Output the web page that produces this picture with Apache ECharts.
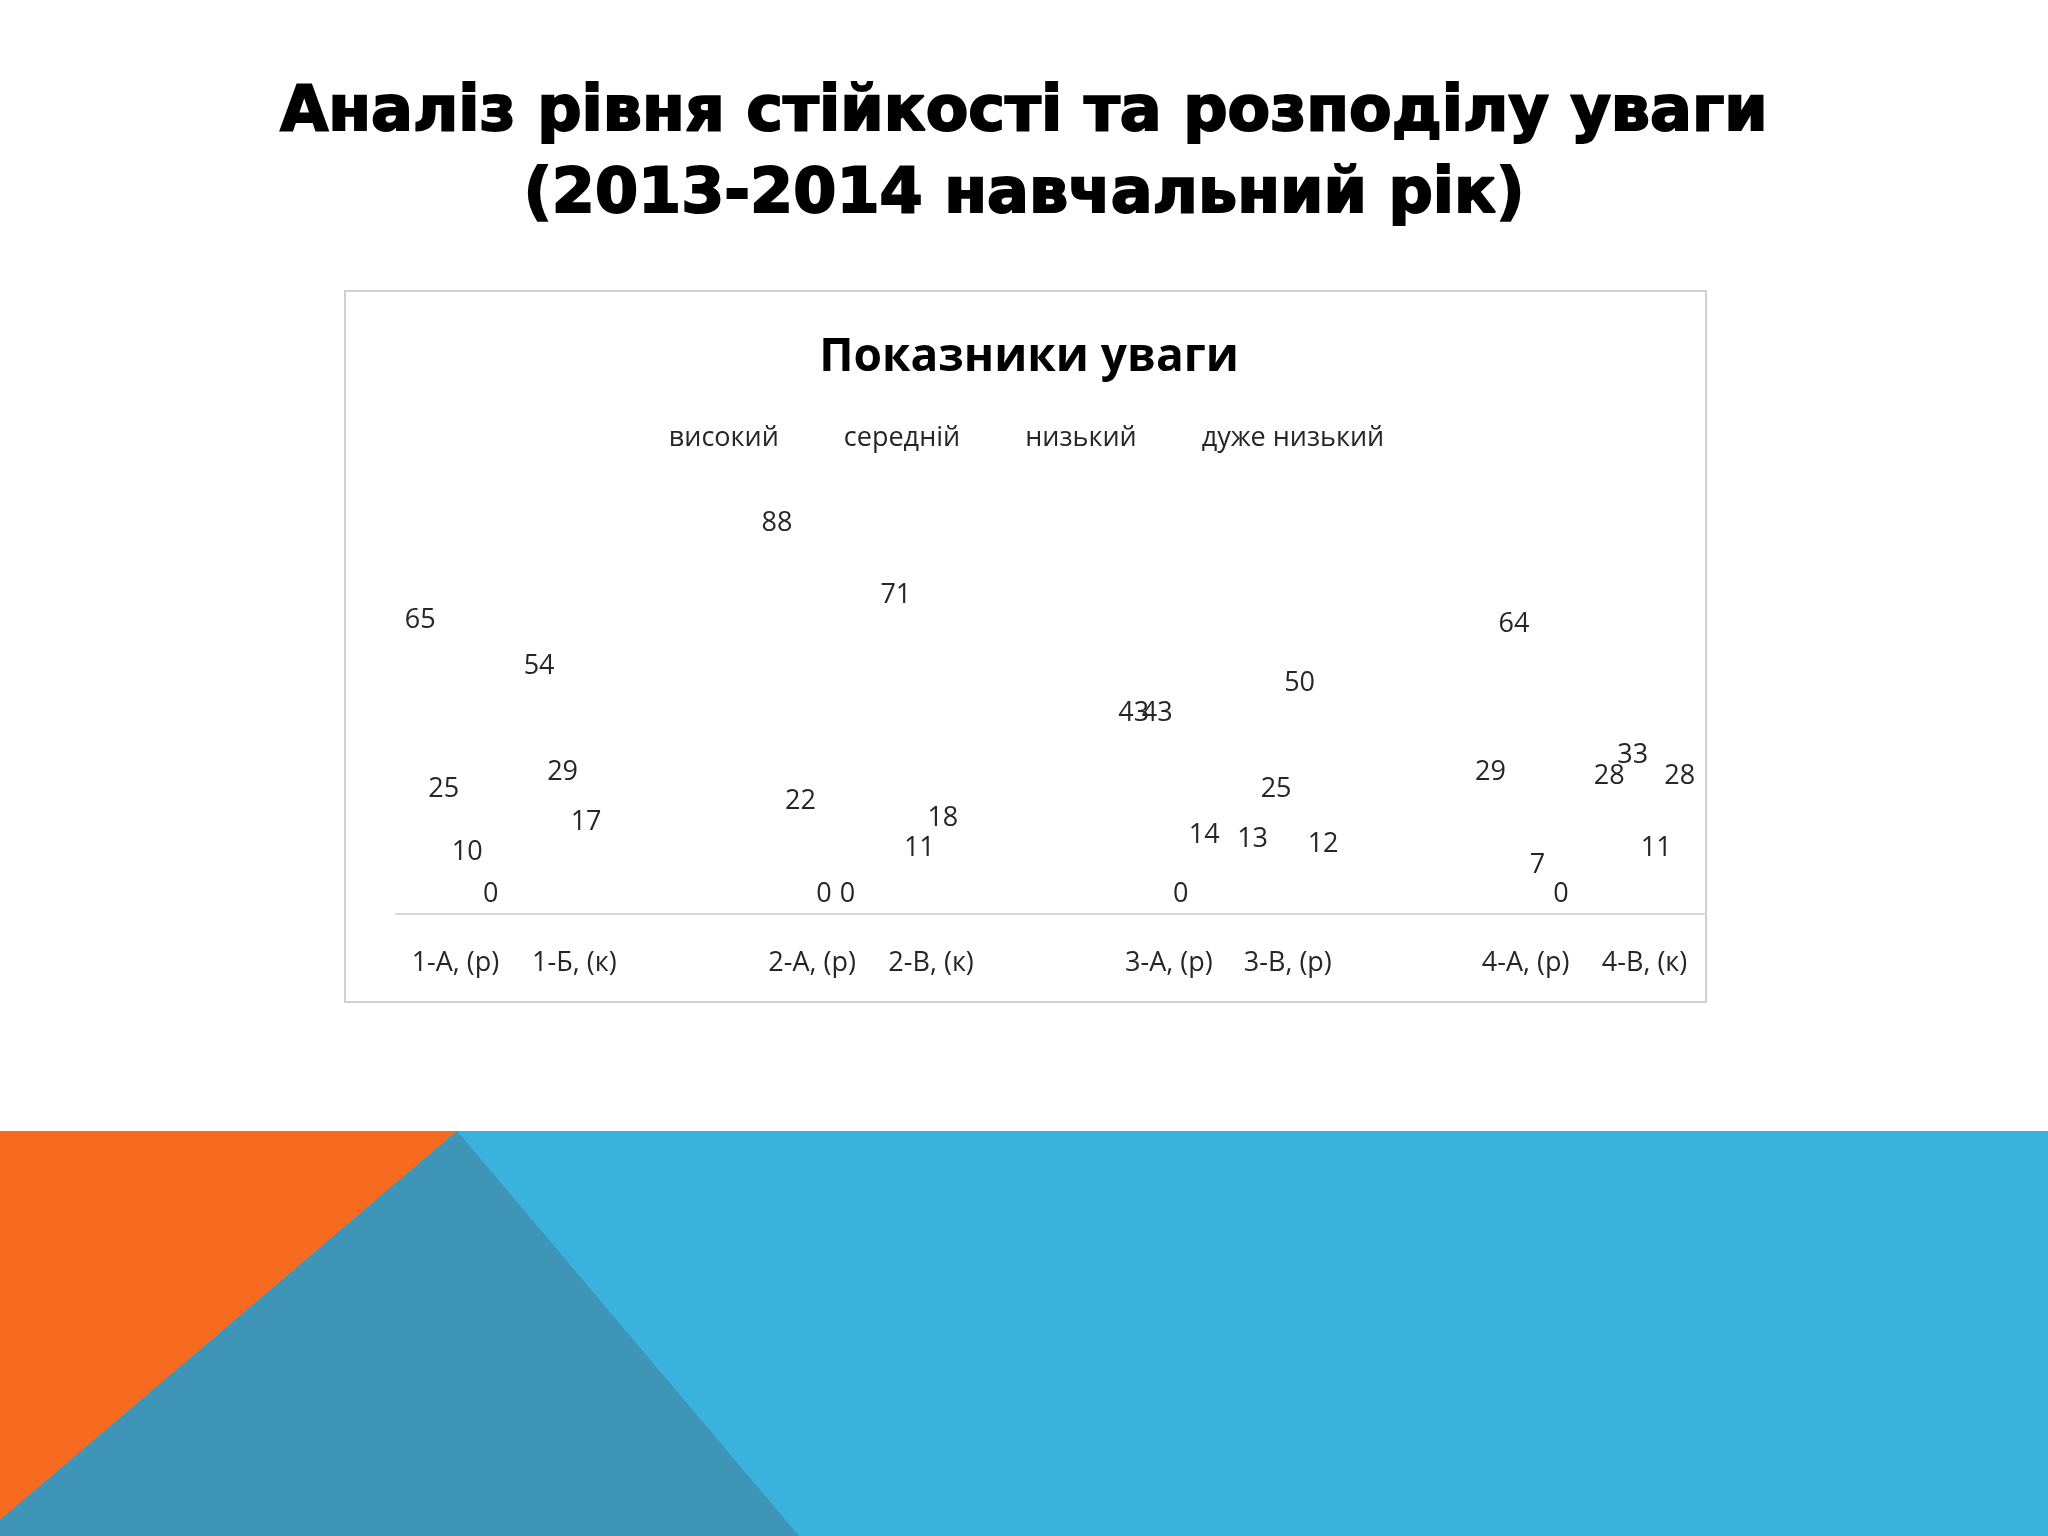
<!DOCTYPE html>
<html><head><meta charset="utf-8">
<script src="https://cdn.jsdelivr.net/npm/echarts@6/dist/echarts.min.js"></script>
<style>html,body{margin:0;padding:0;background:#fff}#c{width:2048px;height:1536px}</style>
</head><body><div id="c"></div>
<script>
const categories = ['1-А, (р)','1-Б, (к)','','2-А, (р)','2-В, (к)','','3-А, (р)','3-В, (р)','','4-А, (р)','4-В, (к)'];
const seriesNames = ['високий','середній','низький','дуже низький'];
const high     = [65,54,null,88,71,null,43,13,null,29,28];
const medium   = [25,29,null,22,11,null,43,25,null,64,33];
const low      = [10,17,null,0,18,null,0,50,null,7,11];
const veryLow  = [0,null,null,0,null,null,14,12,null,0,28];
const values = [high, medium, low, veryLow];

const chart = echarts.init(document.getElementById('c'));
const clear = 'rgba(0,0,0,0)';
chart.setOption({
  backgroundColor:'#fff',
  animation:false,
  title:[
    {text:'Аналіз рівня стійкості та розподілу уваги\n(2013-2014 навчальний рік)',left:'center',top:68,
     textStyle:{fontFamily:'DejaVu Sans',fontWeight:900,fontSize:62,lineHeight:82,color:'#000',textBorderColor:'#000',textBorderWidth:2}},
    {text:'Показники уваги',left:1024,textAlign:'center',top:330,
     textStyle:{fontFamily:'Open Sans',fontWeight:'bold',fontSize:46,color:'#000'}}
  ],
  legend:{top:420,left:'center',itemGap:60,icon:'none',itemWidth:0,
    textStyle:{fontFamily:'Open Sans',fontSize:27,color:'#262626'},data:seriesNames},
  grid:{left:396,right:344,top:492,bottom:622},
  xAxis:{type:'category',data:categories,
    axisLine:{lineStyle:{color:'#d9d9d9',width:2}},axisTick:{show:false},
    axisLabel:{fontFamily:'Open Sans',fontSize:27,color:'#262626',margin:36,interval:0}},
  yAxis:{type:'value',min:0,max:100,show:false,splitLine:{show:false}},
  graphic:[
    {type:'rect',shape:{x:345,y:291,width:1361,height:711},style:{fill:'none',stroke:'#d0d0d0',lineWidth:2},z:-1},
    {type:'rect',shape:{x:0,y:1131,width:2048,height:405},style:{fill:'#3BB1DE'}},
    {type:'polygon',shape:{points:[[0,1131],[457,1131],[0,1520]]},style:{fill:'#F76B20'}},
    {type:'polygon',shape:{points:[[457,1131],[799,1536],[0,1536],[0,1520]]},style:{fill:'#3E95B8'}}
  ],
  series: seriesNames.map((n,i)=>({
    name:n,type:'bar',data:values[i],barWidth:23.5,barGap:'0%',barCategoryGap:'20%',
    itemStyle:{color:clear},
    label:{show:true,position:'top',fontFamily:'Open Sans',fontSize:27,color:'#262626',distance:6}
  }))
});
</script></body></html>
